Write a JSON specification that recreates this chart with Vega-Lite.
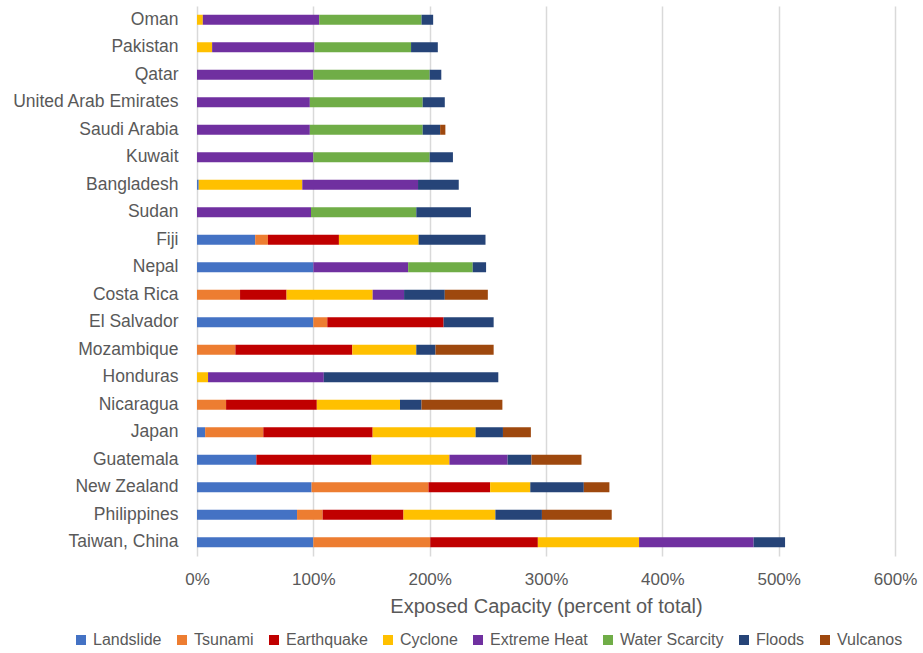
{
  "$schema": "https://vega.github.io/schema/vega-lite/v6.json",
  "width": 698,
  "height": 550,
  "autosize": {"type": "none"},
  "padding": {"left": 197, "top": 6, "right": 28, "bottom": 97},
  "background": "white",
  "config": {
    "font": "Liberation Sans",
    "view": {"stroke": null},
    "axis": {"labelColor": "#595959", "titleColor": "#595959"}
  },
  "data": {
    "values": [
      {"country": "Oman", "hazard": "Cyclone", "value": 5},
      {"country": "Oman", "hazard": "Extreme Heat", "value": 100},
      {"country": "Oman", "hazard": "Water Scarcity", "value": 88},
      {"country": "Oman", "hazard": "Floods", "value": 10},
      {"country": "Pakistan", "hazard": "Cyclone", "value": 13},
      {"country": "Pakistan", "hazard": "Extreme Heat", "value": 88},
      {"country": "Pakistan", "hazard": "Water Scarcity", "value": 83},
      {"country": "Pakistan", "hazard": "Floods", "value": 23},
      {"country": "Qatar", "hazard": "Extreme Heat", "value": 100},
      {"country": "Qatar", "hazard": "Water Scarcity", "value": 100},
      {"country": "Qatar", "hazard": "Floods", "value": 10},
      {"country": "United Arab Emirates", "hazard": "Extreme Heat", "value": 97},
      {"country": "United Arab Emirates", "hazard": "Water Scarcity", "value": 97},
      {"country": "United Arab Emirates", "hazard": "Floods", "value": 19},
      {"country": "Saudi Arabia", "hazard": "Extreme Heat", "value": 97},
      {"country": "Saudi Arabia", "hazard": "Water Scarcity", "value": 97},
      {"country": "Saudi Arabia", "hazard": "Floods", "value": 15},
      {"country": "Saudi Arabia", "hazard": "Vulcanos", "value": 4.5},
      {"country": "Kuwait", "hazard": "Extreme Heat", "value": 100},
      {"country": "Kuwait", "hazard": "Water Scarcity", "value": 100},
      {"country": "Kuwait", "hazard": "Floods", "value": 20},
      {"country": "Bangladesh", "hazard": "Landslide", "value": 1.5},
      {"country": "Bangladesh", "hazard": "Cyclone", "value": 89},
      {"country": "Bangladesh", "hazard": "Extreme Heat", "value": 99.5},
      {"country": "Bangladesh", "hazard": "Floods", "value": 35},
      {"country": "Sudan", "hazard": "Extreme Heat", "value": 98},
      {"country": "Sudan", "hazard": "Water Scarcity", "value": 90.5},
      {"country": "Sudan", "hazard": "Floods", "value": 47},
      {"country": "Fiji", "hazard": "Landslide", "value": 50},
      {"country": "Fiji", "hazard": "Tsunami", "value": 11},
      {"country": "Fiji", "hazard": "Earthquake", "value": 61},
      {"country": "Fiji", "hazard": "Cyclone", "value": 68.5},
      {"country": "Fiji", "hazard": "Floods", "value": 57.5},
      {"country": "Nepal", "hazard": "Landslide", "value": 100},
      {"country": "Nepal", "hazard": "Extreme Heat", "value": 81.5},
      {"country": "Nepal", "hazard": "Water Scarcity", "value": 55.5},
      {"country": "Nepal", "hazard": "Floods", "value": 11.5},
      {"country": "Costa Rica", "hazard": "Tsunami", "value": 37},
      {"country": "Costa Rica", "hazard": "Earthquake", "value": 40},
      {"country": "Costa Rica", "hazard": "Cyclone", "value": 74},
      {"country": "Costa Rica", "hazard": "Extreme Heat", "value": 27},
      {"country": "Costa Rica", "hazard": "Floods", "value": 35},
      {"country": "Costa Rica", "hazard": "Vulcanos", "value": 37},
      {"country": "El Salvador", "hazard": "Landslide", "value": 100},
      {"country": "El Salvador", "hazard": "Tsunami", "value": 12},
      {"country": "El Salvador", "hazard": "Earthquake", "value": 100},
      {"country": "El Salvador", "hazard": "Floods", "value": 43},
      {"country": "Mozambique", "hazard": "Tsunami", "value": 33},
      {"country": "Mozambique", "hazard": "Earthquake", "value": 100.5},
      {"country": "Mozambique", "hazard": "Cyclone", "value": 55},
      {"country": "Mozambique", "hazard": "Floods", "value": 16.5},
      {"country": "Mozambique", "hazard": "Vulcanos", "value": 50},
      {"country": "Honduras", "hazard": "Cyclone", "value": 9.5},
      {"country": "Honduras", "hazard": "Extreme Heat", "value": 99.5},
      {"country": "Honduras", "hazard": "Floods", "value": 150},
      {"country": "Nicaragua", "hazard": "Tsunami", "value": 25},
      {"country": "Nicaragua", "hazard": "Earthquake", "value": 78},
      {"country": "Nicaragua", "hazard": "Cyclone", "value": 71.5},
      {"country": "Nicaragua", "hazard": "Floods", "value": 18.5},
      {"country": "Nicaragua", "hazard": "Vulcanos", "value": 69.5},
      {"country": "Japan", "hazard": "Landslide", "value": 7},
      {"country": "Japan", "hazard": "Tsunami", "value": 50},
      {"country": "Japan", "hazard": "Earthquake", "value": 94},
      {"country": "Japan", "hazard": "Cyclone", "value": 88.5},
      {"country": "Japan", "hazard": "Floods", "value": 23.5},
      {"country": "Japan", "hazard": "Vulcanos", "value": 24},
      {"country": "Guatemala", "hazard": "Landslide", "value": 51},
      {"country": "Guatemala", "hazard": "Earthquake", "value": 99},
      {"country": "Guatemala", "hazard": "Cyclone", "value": 67},
      {"country": "Guatemala", "hazard": "Extreme Heat", "value": 50},
      {"country": "Guatemala", "hazard": "Floods", "value": 20.5},
      {"country": "Guatemala", "hazard": "Vulcanos", "value": 43},
      {"country": "New Zealand", "hazard": "Landslide", "value": 98.5},
      {"country": "New Zealand", "hazard": "Tsunami", "value": 100.5},
      {"country": "New Zealand", "hazard": "Earthquake", "value": 53},
      {"country": "New Zealand", "hazard": "Cyclone", "value": 34.5},
      {"country": "New Zealand", "hazard": "Floods", "value": 46},
      {"country": "New Zealand", "hazard": "Vulcanos", "value": 22},
      {"country": "Philippines", "hazard": "Landslide", "value": 86},
      {"country": "Philippines", "hazard": "Tsunami", "value": 22},
      {"country": "Philippines", "hazard": "Earthquake", "value": 69.5},
      {"country": "Philippines", "hazard": "Cyclone", "value": 79},
      {"country": "Philippines", "hazard": "Floods", "value": 40},
      {"country": "Philippines", "hazard": "Vulcanos", "value": 60},
      {"country": "Taiwan, China", "hazard": "Landslide", "value": 100},
      {"country": "Taiwan, China", "hazard": "Tsunami", "value": 100.5},
      {"country": "Taiwan, China", "hazard": "Earthquake", "value": 92.5},
      {"country": "Taiwan, China", "hazard": "Cyclone", "value": 87},
      {"country": "Taiwan, China", "hazard": "Extreme Heat", "value": 98.5},
      {"country": "Taiwan, China", "hazard": "Floods", "value": 27}
    ]
  },
  "transform": [
    {"calculate": "indexof(['Landslide','Tsunami','Earthquake','Cyclone','Extreme Heat','Water Scarcity','Floods','Vulcanos'], datum.hazard)", "as": "hazardOrder"}
  ],
  "mark": {"type": "bar", "size": 10},
  "encoding": {
    "y": {
      "field": "country",
      "type": "nominal",
      "sort": ["Oman", "Pakistan", "Qatar", "United Arab Emirates", "Saudi Arabia", "Kuwait", "Bangladesh", "Sudan", "Fiji", "Nepal", "Costa Rica", "El Salvador", "Mozambique", "Honduras", "Nicaragua", "Japan", "Guatemala", "New Zealand", "Philippines", "Taiwan, China"],
      "axis": {
        "title": null,
        "ticks": false,
        "domain": false,
        "labelFontSize": 17.5,
        "labelPadding": 19
      }
    },
    "x": {
      "field": "value",
      "type": "quantitative",
      "stack": "zero",
      "scale": {"domain": [0, 600], "nice": false},
      "axis": {
        "values": [0, 100, 200, 300, 400, 500, 600],
        "labelExpr": "datum.value + '%'",
        "labelFlush": false,
        "title": "Exposed Capacity (percent of total)",
        "titleFontSize": 20,
        "titleFontWeight": "normal",
        "titlePadding": 9,
        "labelFontSize": 17,
        "labelPadding": 15,
        "ticks": false,
        "domain": false,
        "grid": true,
        "gridColor": "#d9d9d9",
        "gridWidth": 1.5
      }
    },
    "order": {"field": "hazardOrder", "type": "quantitative"},
    "color": {
      "field": "hazard",
      "type": "nominal",
      "sort": ["Landslide", "Tsunami", "Earthquake", "Cyclone", "Extreme Heat", "Water Scarcity", "Floods", "Vulcanos"],
      "scale": {
        "domain": ["Landslide", "Tsunami", "Earthquake", "Cyclone", "Extreme Heat", "Water Scarcity", "Floods", "Vulcanos"],
        "range": ["#4472C4", "#ED7D31", "#C00000", "#FFC000", "#7030A0", "#70AD47", "#264478", "#9E480E"]
      },
      "legend": {
        "title": null,
        "orient": "none",
        "legendX": -124,
        "legendY": 626,
        "direction": "horizontal",
        "symbolType": "square",
        "symbolSize": 100,
        "symbolStrokeWidth": 0,
        "labelFontSize": 16,
        "labelColor": "#595959",
        "columnPadding": 12,
        "labelOffset": 4
      }
    }
  }
}
